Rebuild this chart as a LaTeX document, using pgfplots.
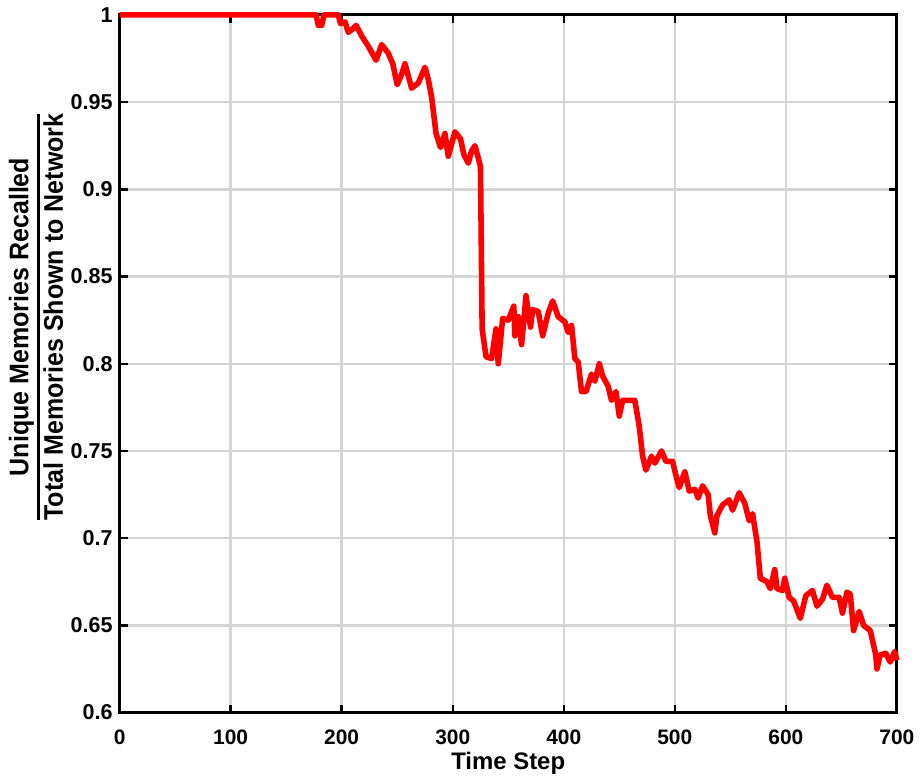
\documentclass[border=0pt]{standalone}
\usepackage{pgfplots}
\pgfplotsset{compat=1.18}
\usepackage{fontspec}
\setmainfont{Liberation Sans}
\newfontfamily\narrowfont[FakeStretch=0.93]{Liberation Sans}

\begin{document}
\begin{tikzpicture}
\begin{axis}[
  width=390pt, height=350pt,
  scale only axis,
  xmin=0, xmax=700, ymin=0.6, ymax=1,
  xtick={0,100,...,700},
  ytick={0.6,0.65,...,1.0},
  yticklabels={0.6,0.65,0.7,0.75,0.8,0.85,0.9,0.95,1},
  /pgf/number format/assume math mode=true,
  tick align=inside,
  major tick length=4pt,
  tick style={line width=1.2pt, black},
  axis line style={line width=1.5pt},
  grid=major,
  grid style={line width=1.2pt, gray!33},
  xticklabel style={font=\bfseries\fontsize{10.5}{12}\selectfont, yshift=-5pt},
  yticklabel style={font=\bfseries\fontsize{10.8}{13}\selectfont},
  xlabel={\bfseries\fontsize{12}{14}\selectfont Time Step},
  xlabel style={at={(axis description cs:0.5,-0.073)}, anchor=center},
  ylabel={\narrowfont\bfseries\fontsize{13.5}{13}\selectfont
    \setlength\arrayrulewidth{1.4pt}%
    \begin{tabular}{@{}c@{}}Unique Memories Recalled\\[0.5pt]\hline
    \rule{0pt}{11.5pt}Total Memories Shown to Network\end{tabular}},
  ylabel style={at={(axis description cs:-0.1026,0.567)}, anchor=center},
  clip=false,
]
\addplot[red, line width=2.8pt, line join=round] coordinates {
(0,1) (177,1) (179,0.994) (182,0.994) (184,1) (197,1) (199,0.995) (203,0.996)
(206,0.990) (210,0.992) (213,0.994) (218,0.988) (224,0.982) (231,0.974)
(236,0.983) (242,0.978) (246,0.972) (250,0.960) (254,0.966) (257,0.972)
(263,0.958) (269,0.961) (275,0.970) (278,0.963) (281,0.953) (285,0.932)
(289,0.924) (293,0.932) (296,0.919) (302,0.933) (307,0.929) (310,0.920)
(314,0.915) (317,0.922) (320,0.925) (323,0.918) (325,0.913) (326.5,0.82)
(330,0.804) (335,0.803) (339,0.82) (341,0.80) (345,0.826) (350,0.825)
(355,0.833) (356,0.816) (359,0.827) (362,0.811) (366,0.839) (370,0.821)
(372,0.831) (377,0.830) (381,0.816) (386,0.829) (390,0.836) (395,0.827)
(401,0.824) (404,0.818) (407,0.822) (410,0.803) (413,0.801) (416,0.784)
(420,0.784) (425,0.794) (428,0.790) (432,0.800) (435,0.793) (440,0.787)
(443,0.779) (447,0.784) (450,0.770) (453,0.779) (459,0.779) (464,0.779)
(468,0.764) (471,0.747) (474,0.739) (479,0.747) (482,0.743) (488,0.750)
(492,0.744) (498,0.744) (501,0.736) (504,0.729) (509,0.738) (513,0.727)
(518,0.728) (521,0.723) (525,0.730) (530,0.725) (532,0.713) (536,0.703)
(538,0.713) (543,0.719) (549,0.722) (552,0.716) (558,0.726) (563,0.720)
(567,0.710) (570,0.714) (574,0.698) (577,0.677) (583,0.675) (586,0.671)
(590,0.682) (592,0.671) (597,0.670) (599,0.677) (603,0.666) (607,0.664)
(613,0.654) (618,0.667) (624,0.670) (628,0.661) (633,0.665) (637,0.673)
(642,0.666) (648,0.666) (651,0.657) (655,0.669) (658,0.668) (661,0.647)
(666,0.658) (670,0.650) (676,0.647) (681,0.633) (682,0.625) (685,0.633)
(690,0.634) (694,0.629) (698,0.635) (700,0.630)
};
\end{axis}
% page margins around the axis box
\path ([xshift=-60pt,yshift=-33pt]current axis.south west)
  rectangle ([xshift=10.5pt,yshift=7.5pt]current axis.north east);
\end{tikzpicture}
\end{document}
